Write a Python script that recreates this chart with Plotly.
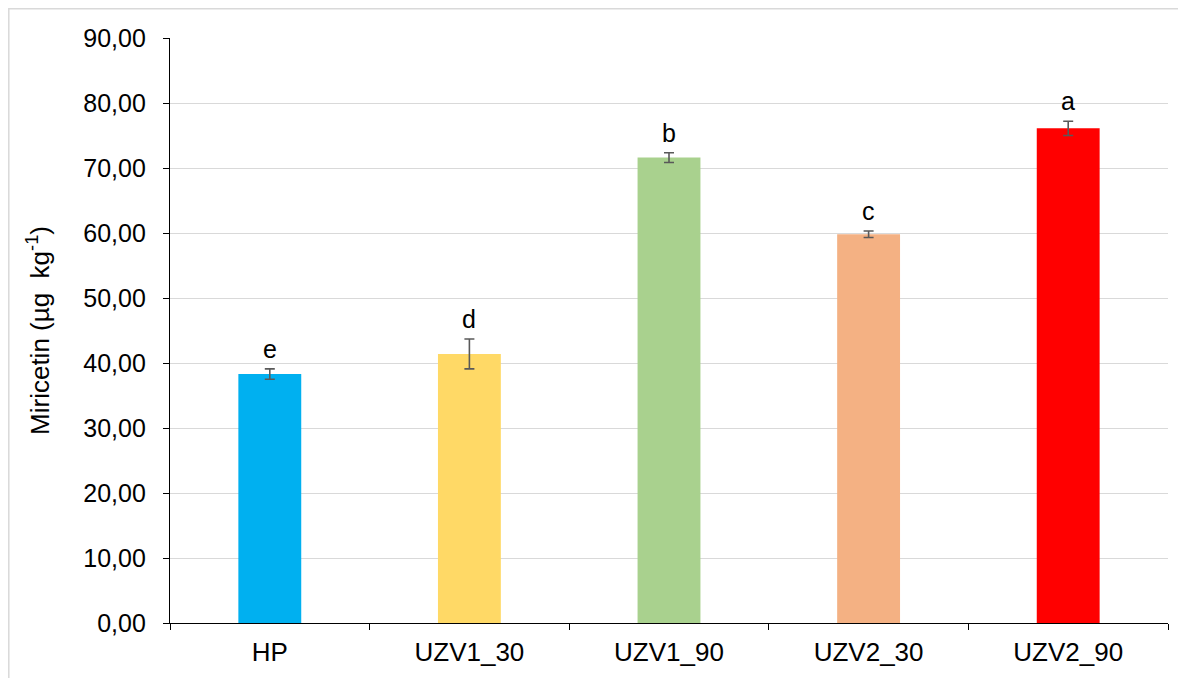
import plotly.graph_objects as go

categories = ["HP", "UZV1_30", "UZV1_90", "UZV2_30", "UZV2_90"]
values = [38.3, 41.4, 71.6, 59.8, 76.1]
errors = [0.8, 2.3, 0.75, 0.5, 1.1]
letters = ["e", "d", "b", "c", "a"]
colors = ["#00B0F0", "#FFD966", "#A9D18E", "#F4B183", "#FF0000"]

W, H = 1178, 670
L, R, T, B = 162, 18, 30, 55
pw, ph = W - L - R, H - T - B
FONT = "Liberation Sans, Arial, sans-serif"

fig = go.Figure()
fig.add_trace(go.Bar(
    x=categories, y=values, marker=dict(color=colors, line=dict(width=0)),
    width=0.315,
    error_y=dict(type="data", array=errors, visible=True, color="#595959", thickness=1.6, width=5),
    showlegend=False,
))

for c, v, e, t in zip(categories, values, errors, letters):
    fig.add_annotation(x=c, y=v + e, text=t, showarrow=False, yanchor="middle", yshift=20,
                       font=dict(family=FONT, size=25, color="black"))

bx = (0.8 - L) / pw
by = (H - B - 0.8) / ph
fig.add_shape(type="path", xref="paper", yref="paper",
              path=f"M {bx},-0.2 L {bx},{by} L 1.1,{by}",
              line=dict(color="#d9d9d9", width=1.5))

fig.update_layout(
    width=W, height=H,
    margin=dict(l=L, r=R, t=T, b=B),
    plot_bgcolor="white", paper_bgcolor="white",
    separators=",.",
    font=dict(family=FONT, color="black", size=24),
    bargap=0.685,
    xaxis=dict(showline=True, linecolor="black", linewidth=1.3, ticks="outside", ticklen=6,
               tickcolor="black", tickson="boundaries", showgrid=False,
               tickfont=dict(size=26), ticklabelstandoff=6),
    yaxis=dict(range=[0, 90], dtick=10, tickformat=".2f", showline=True, linecolor="black",
               linewidth=1.3, ticks="outside", ticklen=6, tickcolor="black",
               gridcolor="#d9d9d9", gridwidth=1.3, zeroline=False,
               tickfont=dict(size=25), ticklabelstandoff=12,
               title=dict(text="Miricetin (µg  kg<sup>-1</sup>)", font=dict(size=26), standoff=26)),
)

fig.write_html("out.html")
